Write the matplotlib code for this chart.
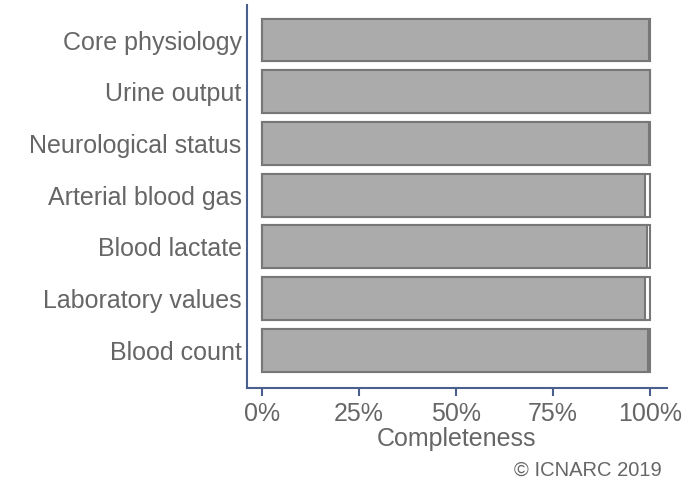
import matplotlib
matplotlib.use("Agg")
import matplotlib.pyplot as plt
import numpy as np

plt.rcParams['font.family'] = ['Liberation Sans', 'DejaVu Sans']

# data (completeness, fraction)
categories = ["Core physiology", "Urine output", "Neurological status",
              "Arterial blood gas", "Blood lactate", "Laboratory values",
              "Blood count"]
completeness = [0.999, 1.0, 0.999, 0.987, 0.993, 0.987, 0.996]
tick_vals = [0, 0.25, 0.5, 0.75, 1.0]
tick_labels = ["0%", "25%", "50%", "75%", "100%"]

SPINE = "#4a5f8e"
TEXT = "#666666"
EDGE = "#777777"
FILL = "#ababab"
FS = 18

fig = plt.figure(figsize=(6.94, 4.84), dpi=100)
ax = fig.add_axes([0.356, 0.198, 0.605, 0.792])

y = np.arange(len(categories))
ax.barh(y, [1.0] * len(categories), height=0.83, color="white",
        edgecolor=EDGE, linewidth=1.5)
ax.barh(y, completeness, height=0.83, color=FILL,
        edgecolor=EDGE, linewidth=1.5)

ax.set_xlim(-0.039, 1.044)
ax.set_ylim(6.73, -0.68)
ax.set_yticks(y)
ax.set_yticklabels(categories)
ax.set_xticks(tick_vals)
ax.set_xticklabels(tick_labels)
ax.tick_params(axis="y", length=0, pad=4, labelsize=FS, labelcolor=TEXT)
ax.tick_params(axis="x", length=6, width=1.5, color=SPINE, pad=4,
               labelsize=FS, labelcolor=TEXT)

for s in ["top", "right"]:
    ax.spines[s].set_visible(False)
for s in ["left", "bottom"]:
    ax.spines[s].set_color(SPINE)
    ax.spines[s].set_linewidth(1.5)

ax.set_xlabel("Completeness", fontsize=FS, color=TEXT, labelpad=1)
fig.text(0.954, 0.029, "\u00a9 ICNARC 2019", ha="right", va="center",
         fontsize=14.5, color=TEXT)

fig.savefig("out.png", dpi=100)
